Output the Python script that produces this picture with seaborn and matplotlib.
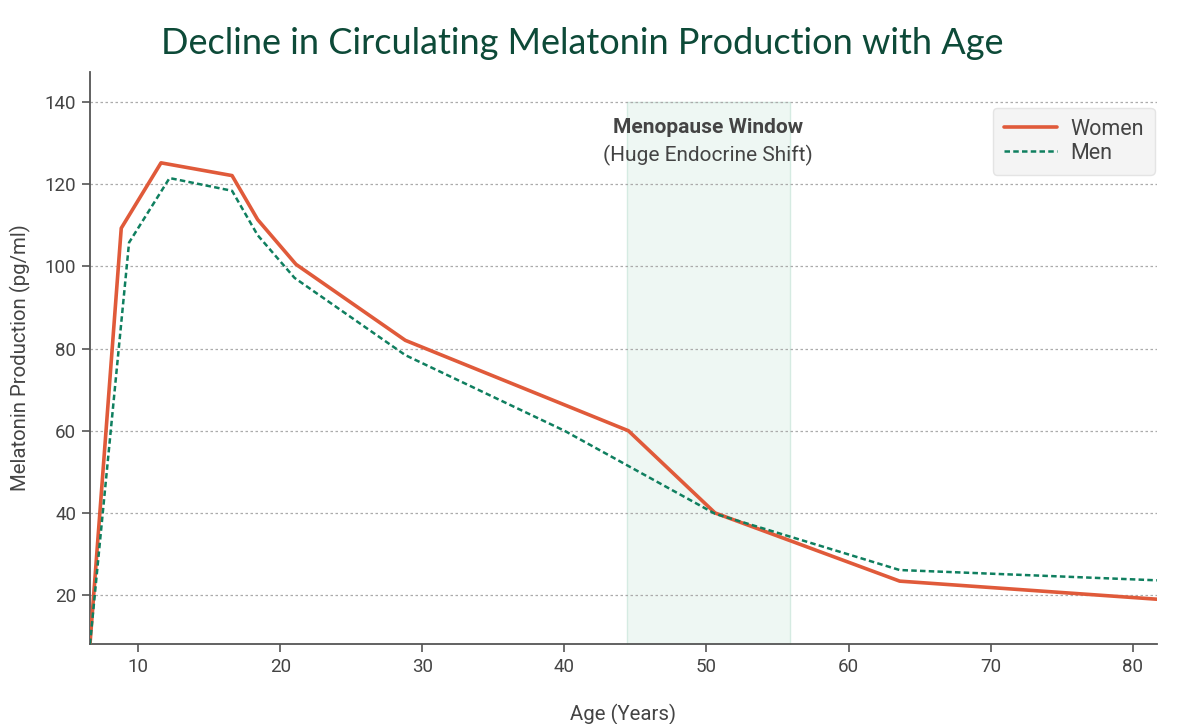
import matplotlib.pyplot as plt
import seaborn as sns
import pandas as pd

women_age = [6.6, 8.8, 11.6, 16.6, 18.4, 21.1, 28.8, 44.5, 50.6, 63.6, 81.7]
women_mel = [8.1, 109.3, 125.2, 122.1, 111.4, 100.5, 82.0, 60.0, 40.0, 23.4, 19.0]
men_age = [6.6, 9.35, 12.2, 16.6, 18.4, 21.0, 28.8, 40.0, 50.6, 63.6, 81.7]
men_mel = [8.1, 105.8, 121.5, 118.4, 107.6, 97.2, 78.4, 60.0, 39.8, 26.1, 23.6]
menopause = (44.4, 55.85)

df = pd.DataFrame({
    'Age': women_age + men_age,
    'Melatonin': women_mel + men_mel,
    'Sex': ['Women'] * len(women_age) + ['Men'] * len(men_age),
})

sns.set_style("white")
plt.rcParams['font.family'] = ['Roboto', 'DejaVu Sans']

fig = plt.figure(figsize=(12, 7.24), dpi=100)
ax = fig.add_axes([0.075, 0.1105, 0.889, 0.79])

ax.fill_betweenx([0, 140], menopause[0], menopause[1], color='#eef7f3',
                 edgecolor='#d5ebe2', linewidth=1, zorder=0)

palette = {'Women': '#e05a3a', 'Men': '#0f7f5f'}
sns.lineplot(data=df, x='Age', y='Melatonin', hue='Sex', style='Sex',
             palette=palette, dashes={'Women': '', 'Men': (2.2, 1.3)},
             estimator=None, sort=False, ax=ax, zorder=3)
for line in ax.lines:
    if line.get_color() == palette['Women']:
        line.set_linewidth(2.6)
    else:
        line.set_linewidth(1.8)

ax.set_xlim(6.6, 81.7)
ax.set_ylim(8.1, 147.3)
ax.set_yticks([20, 40, 60, 80, 100, 120, 140])
ax.set_xticks([10, 20, 30, 40, 50, 60, 70, 80])
ax.yaxis.grid(True, linestyle=(0, (2, 2)), color='#ababab', linewidth=0.9)
ax.set_axisbelow(True)

for s in ['top', 'right']:
    ax.spines[s].set_visible(False)
for s in ['left', 'bottom']:
    ax.spines[s].set_color('#555555')
    ax.spines[s].set_linewidth(1.3)
ax.tick_params(axis='both', direction='out', length=6, width=1.2, color='#555555',
               labelcolor='#444444', labelsize=13.5, pad=4, bottom=True, left=True)

ax.set_xlabel('Age (Years)', fontsize=14.7, color='#444444', labelpad=20)
ax.set_ylabel('Melatonin Production (pg/ml)', fontsize=14.7, color='#444444', labelpad=10)

mid = (menopause[0] + menopause[1]) / 2
ax.text(mid, 133.7, 'Menopause Window', ha='center', va='center',
        fontsize=15, fontweight='bold', color='#444444')
ax.text(mid, 126.9, '(Huge Endocrine Shift)', ha='center', va='center',
        fontsize=15, color='#444444')

leg = ax.legend(loc='upper right', bbox_to_anchor=(1.008, 0.956), fontsize=15.5,
                frameon=True, fancybox=True, handlelength=2.5, borderpad=0.5,
                labelspacing=0.15, handletextpad=0.6)
leg.get_frame().set_facecolor('#f4f4f4')
leg.get_frame().set_edgecolor('#e4e4e4')
leg.get_frame().set_alpha(1)
for t in leg.get_texts():
    t.set_color('#444444')

fig.text(0.485, 0.94, 'Decline in Circulating Melatonin Production with Age',
         ha='center', va='center', fontsize=26, color='#0d4a38',
         family=['Lato', 'DejaVu Sans'])

fig.savefig('out.png', dpi=100, facecolor='white')
